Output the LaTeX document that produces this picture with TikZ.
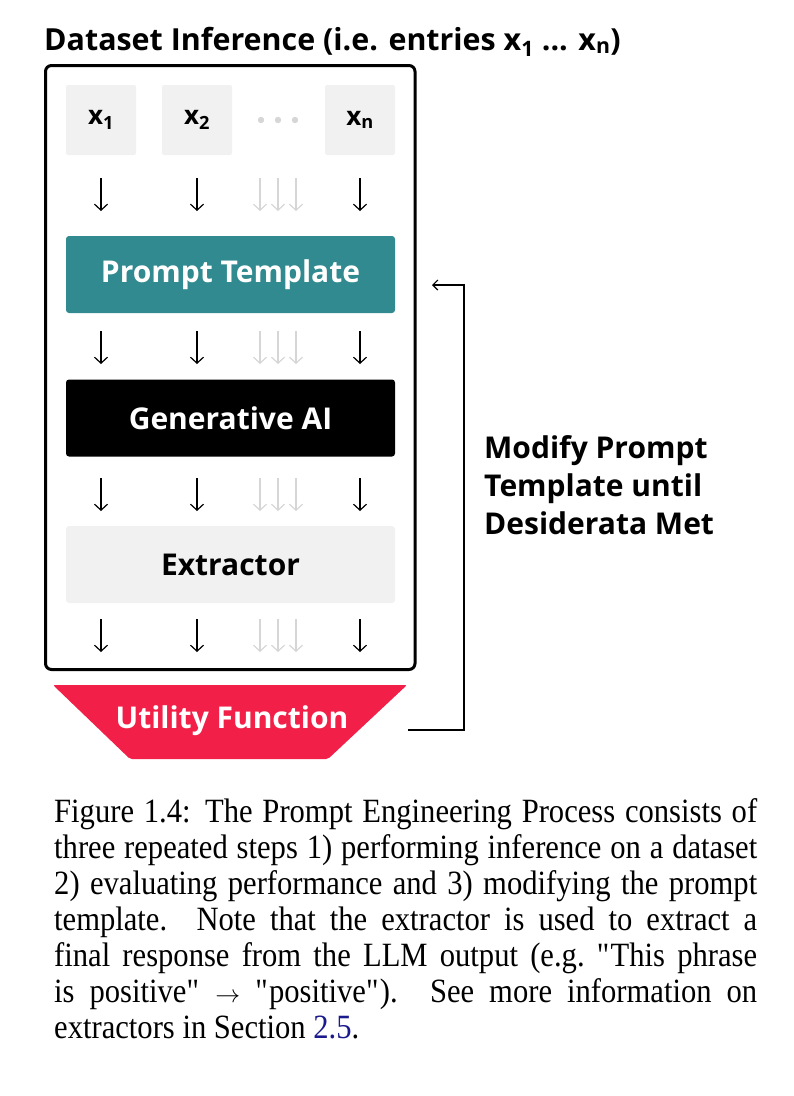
\documentclass[tikz,border=0pt]{standalone}
\usepackage{fontspec}
\setmainfont{Liberation Serif}
\newfontfamily\capfont{Liberation Serif}[FakeStretch=0.9]
\newfontfamily\diagfont{Open Sans}
\usetikzlibrary{arrows.meta,positioning}
\definecolor{ptteal}{HTML}{308A8F}
\definecolor{utilred}{HTML}{F21F48}
\definecolor{boxgray}{HTML}{F1F1F1}
\definecolor{fadegray}{HTML}{D6D6D6}
\definecolor{refblue}{HTML}{1A1A8C}
\tikzset{
  entry/.style={fill=boxgray, rounded corners=2pt, inner sep=0pt, minimum width=70pt, minimum height=70pt, font=\diagfont\bfseries\fontsize{26}{30}\selectfont},
  stage/.style={rounded corners=3pt, inner sep=0pt, minimum width=329pt, minimum height=77pt, font=\diagfont\bfseries\fontsize{30}{36}\selectfont},
  flow/.style={-{Straight Barb[length=6pt,width=13pt]}, line width=1.2pt},
  back/.style={-{Straight Barb[length=5pt,width=10pt]}, line width=1.2pt},
}
\begin{document}
\begin{tikzpicture}[x=1pt,y=-1pt]
\useasboundingbox (0,0) rectangle (794,1096);
\node[anchor=base west, inner sep=0pt, font=\diagfont\bfseries\fontsize{30.4}{36}\selectfont] (title) at (44,50) {Dataset Inference (i.e. entries x\textsubscript{1} ... x\textsubscript{n})};
\draw[line width=3pt, rounded corners=6pt] (45.5,65.5) rectangle (415,669.5);
\node[entry] (x1) at (101,120) {x\textsubscript{1}};
\node[entry] (x2) at (197,120) {x\textsubscript{2}};
\node[entry] (xn) at (360,120) {x\textsubscript{n}};
\foreach \x in {261,278,295} \fill[fadegray] (\x,120) circle (3.2pt);
\node[stage, fill=ptteal, text=white] (prompt) at (230.5,274.5) {Prompt Template};
\node[stage, fill=black, text=white] (genai) at (230.5,418) {Generative AI};
\node[stage, fill=boxgray] (extract) at (230.5,564.5) {Extractor};
\foreach \y in {178,331,478,619} {
  \foreach \x in {101,197,360} \draw[flow] (\x,\y) -- ++(0,33);
  \foreach \x in {260,278,296} \draw[flow, fadegray] (\x,\y) -- ++(0,33);
}
\fill[utilred, rounded corners=2pt] (53,685) -- (407,685) -- (328,759) -- (130,759) -- cycle;
\node[text=white, font=\diagfont\bfseries\fontsize{30}{36}\selectfont] (util) at (232,721) {Utility Function};
\coordinate (loopstart) at (408,730);
\coordinate (loopend) at (432,285);
\draw[back] (loopstart) -- (464,730) |- (loopend);
\node[anchor=north west, inner sep=0pt, align=left, font=\diagfont\bfseries\fontsize{30}{38}\selectfont] (modify) at (484,435) {Modify Prompt\\Template until\\Desiderata Met};
\node[anchor=north west, inner sep=0pt, text width=703pt, align=justify, font=\capfont\fontsize{34}{36}\selectfont] (caption) at (54,798) {Figure 1.4: The Prompt Engineering Process consists of\linebreak three repeated steps 1) performing inference on a dataset\linebreak 2) evaluating performance and 3) modifying the prompt\linebreak template.  Note that the extractor is used to extract a\linebreak final response from the LLM output (e.g.\ \textquotedbl This phrase\linebreak is positive\textquotedbl\ $\rightarrow$ \textquotedbl positive\textquotedbl).  See more information on\linebreak extractors in Section \textcolor{refblue}{2.5}.};
\end{tikzpicture}
\end{document}
